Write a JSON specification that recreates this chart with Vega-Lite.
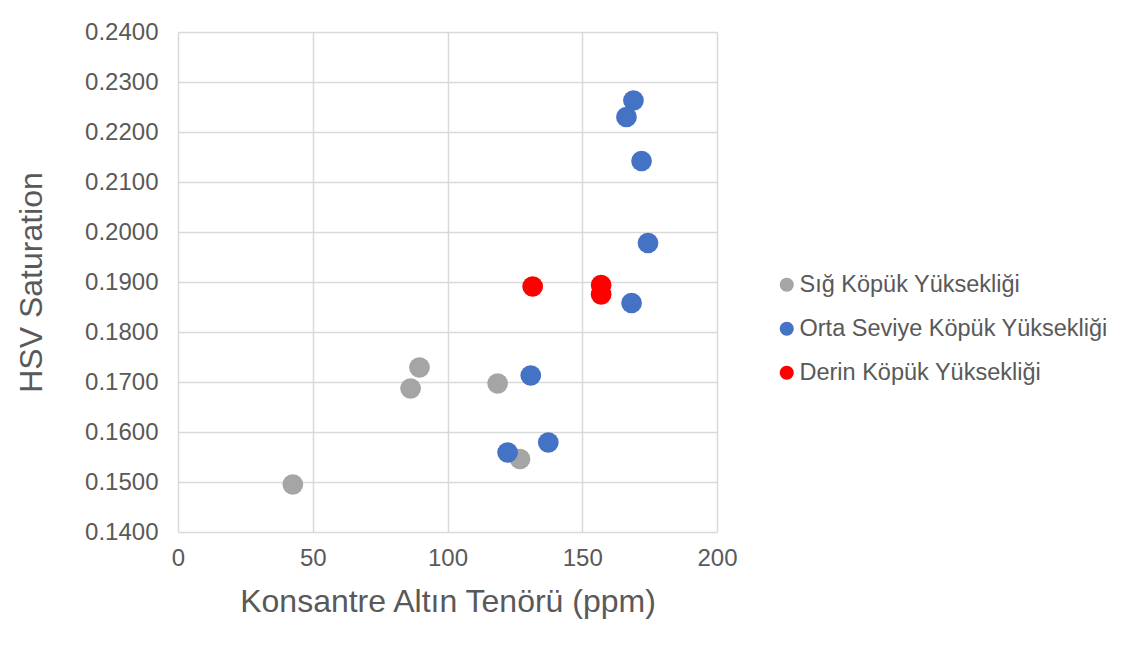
{
  "$schema": "https://vega.github.io/schema/vega-lite/v6.json",
  "autosize": {"type": "none"},
  "width": 539,
  "height": 500,
  "padding": {"left": 178, "top": 32, "right": 416, "bottom": 115},
  "background": "white",
  "config": {
    "view": {"stroke": null},
    "font": "Liberation Sans",
    "axis": {
      "labelFont": "Liberation Sans",
      "titleFont": "Liberation Sans",
      "labelColor": "#595959",
      "titleColor": "#595959",
      "labelFontSize": 24,
      "titleFontSize": 32,
      "titleFontWeight": "normal",
      "gridColor": "#D9D9D9",
      "gridWidth": 1.5,
      "domain": false,
      "ticks": false,
      "labelOverlap": false,
      "labelFlush": false
    },
    "legend": {
      "labelFont": "Liberation Sans",
      "labelColor": "#595959",
      "labelFontSize": 23.5,
      "labelLimit": 500
    }
  },
  "data": {
    "values": [
      {"seri": "Sığ Köpük Yüksekliği", "tenor": 42.6, "sat": 0.1495},
      {"seri": "Sığ Köpük Yüksekliği", "tenor": 86.3, "sat": 0.1687},
      {"seri": "Sığ Köpük Yüksekliği", "tenor": 89.6, "sat": 0.1729},
      {"seri": "Sığ Köpük Yüksekliği", "tenor": 118.6, "sat": 0.1697},
      {"seri": "Sığ Köpük Yüksekliği", "tenor": 126.9, "sat": 0.1546},
      {"seri": "Orta Seviye Köpük Yüksekliği", "tenor": 169.0, "sat": 0.2263},
      {"seri": "Orta Seviye Köpük Yüksekliği", "tenor": 166.4, "sat": 0.2230},
      {"seri": "Orta Seviye Köpük Yüksekliği", "tenor": 172.0, "sat": 0.2142},
      {"seri": "Orta Seviye Köpük Yüksekliği", "tenor": 174.4, "sat": 0.1978},
      {"seri": "Orta Seviye Köpük Yüksekliği", "tenor": 168.3, "sat": 0.1858},
      {"seri": "Orta Seviye Köpük Yüksekliği", "tenor": 130.9, "sat": 0.1713},
      {"seri": "Orta Seviye Köpük Yüksekliği", "tenor": 137.4, "sat": 0.1579},
      {"seri": "Orta Seviye Köpük Yüksekliği", "tenor": 122.3, "sat": 0.1559},
      {"seri": "Derin Köpük Yüksekliği", "tenor": 131.6, "sat": 0.1891},
      {"seri": "Derin Köpük Yüksekliği", "tenor": 157.0, "sat": 0.1894},
      {"seri": "Derin Köpük Yüksekliği", "tenor": 157.0, "sat": 0.1875}
    ]
  },
  "mark": {"type": "circle", "size": 430, "opacity": 1},
  "encoding": {
    "x": {
      "field": "tenor",
      "type": "quantitative",
      "scale": {"domain": [0, 200], "nice": false, "zero": false},
      "axis": {"values": [0, 50, 100, 150, 200], "title": "Konsantre Altın Tenörü (ppm)", "labelPadding": 14, "titlePadding": 16}
    },
    "y": {
      "field": "sat",
      "type": "quantitative",
      "scale": {"domain": [0.14, 0.24], "nice": false, "zero": false},
      "axis": {"values": [0.14, 0.15, 0.16, 0.17, 0.18, 0.19, 0.2, 0.21, 0.22, 0.23, 0.24], "format": ".4f", "title": "HSV Saturation", "labelPadding": 20, "titlePadding": 36}
    },
    "color": {
      "field": "seri",
      "type": "nominal",
      "scale": {
        "domain": ["Sığ Köpük Yüksekliği", "Orta Seviye Köpük Yüksekliği", "Derin Köpük Yüksekliği"],
        "range": ["#A5A5A5", "#4472C4", "#FF0000"]
      },
      "legend": {
        "title": null,
        "orient": "none",
        "legendX": 597,
        "legendY": 241,
        "symbolType": "circle",
        "symbolSize": 200,
        "symbolOpacity": 1,
        "labelOffset": 1,
        "rowPadding": 19
      }
    }
  }
}
